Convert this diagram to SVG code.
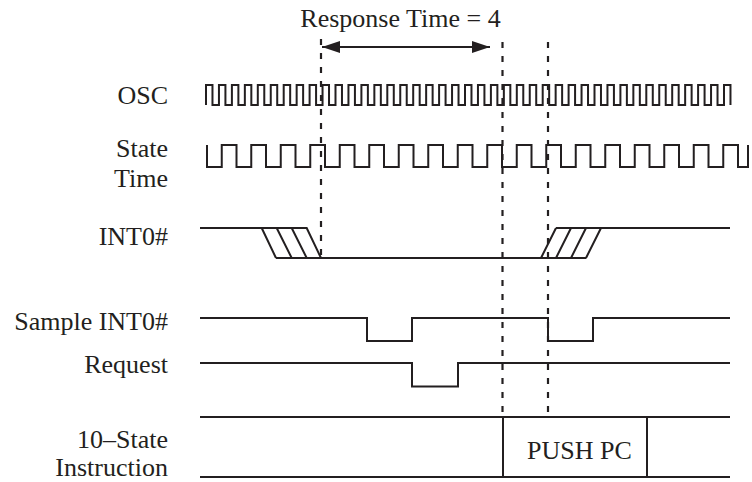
<svg xmlns="http://www.w3.org/2000/svg" width="752" height="482" viewBox="0 0 752 482">
<style>
.w{fill:none;stroke:#231f20;stroke-width:2;stroke-linejoin:miter}
.d{fill:none;stroke:#231f20;stroke-width:2.2;stroke-dasharray:6 8}
text{font-family:"Liberation Serif","Times New Roman",serif;font-size:26px;fill:#231f20}
.r{text-anchor:end}
</style>
<defs>
<marker id="ah" markerUnits="userSpaceOnUse" markerWidth="18" markerHeight="12" refX="18" refY="6" orient="auto-start-reverse">
<path d="M0,0 L18,6 L0,12 z" fill="#231f20"/>
</marker>
</defs>
<rect width="752" height="482" fill="#fff"/>
<g id="title"><text x="400.5" y="27" text-anchor="middle">Response Time = 4</text></g>
<g id="osc">
<text class="r" x="168" y="104">OSC</text>
<path class="w" d="M206,105
v-20h6.475v20h6.475v-20h6.475v20h6.475v-20h6.475v20h6.475v-20h6.475v20h6.475v-20h6.475v20h6.475
v-20h6.475v20h6.475v-20h6.475v20h6.475v-20h6.475v20h6.475v-20h6.475v20h6.475v-20h6.475v20h6.475
v-20h6.475v20h6.475v-20h6.475v20h6.475v-20h6.475v20h6.475v-20h6.475v20h6.475v-20h6.475v20h6.475
v-20h6.475v20h6.475v-20h6.475v20h6.475v-20h6.475v20h6.475v-20h6.475v20h6.475v-20h6.475v20h6.475
v-20h6.475v20h6.475v-20h6.475v20h6.475v-20h6.475v20h6.475v-20h6.475v20h6.475v-20h6.475v20h6.475
v-20h6.475v20h6.475v-20h6.475v20h6.475v-20h6.475v20h6.475v-20h6.475v20h6.475v-20h6.475v20h6.475
v-20h6.475v20h6.475v-20h6.475v20h6.475v-20h6.475v20h6.475v-20h6.475v20h6.475v-20h6.475v20h6.475
v-20h6.475v20h6.475v-20h6.475v20h6.475v-20h6.475v20h6.475v-20h6.475v20h6.475v-20h6.475v20h6.475
v-20h6.475v20"/>
</g>
<g id="state-time">
<text class="r" x="168" y="157">State</text>
<text class="r" x="168" y="187">Time</text>
<path class="w" d="M207,145v22h14.75
v-22h14.75v22h14.75v-22h14.75v22h14.75v-22h14.75v22h14.75v-22h14.75v22h14.75v-22h14.75v22h14.75
v-22h14.75v22h14.75v-22h14.75v22h14.75v-22h14.75v22h14.75v-22h14.75v22h14.75v-22h14.75v22h14.75
v-22h14.75v22h14.75v-22h14.75v22h14.75v-22h14.75v22h14.75v-22h14.75v22h14.75v-22h14.75v22h14.75
v-22h14.75v22h14.75v-22h14.75v22h14.75
v-22h14.75v22h10v-22"/>
</g>
<g id="int0">
<text class="r" x="168" y="245">INT0#</text>
<path class="w" d="M200,228H306.7L321,258M261.7,228L276,258M276.7,228L291.7,258M291.7,228L306.7,258M276,258H586M541,258L556,228M556,258L571,228M571,258L586,228M586,258L601,228M556,228H730"/>
</g>
<g id="sample-int0">
<text class="r" x="168" y="330">Sample INT0#</text>
<path class="w" d="M200,318H367V341H412V318H548V341H593V318H730"/>
</g>
<g id="request">
<text class="r" x="168" y="373">Request</text>
<path class="w" d="M200,363H412V386.5H458V363H730"/>
</g>
<g id="instruction">
<text class="r" x="168" y="448">10–State</text>
<text class="r" x="168" y="476">Instruction</text>
<path class="w" d="M200,417H730M200,477H730"/>
<rect class="w" x="503" y="417" width="144" height="60"/>
<text x="579.5" y="459" text-anchor="middle">PUSH PC</text>
</g>
<g id="connectors">
<line class="d" x1="321" y1="39" x2="321" y2="258"/>
<line class="d" x1="502.5" y1="42" x2="502.5" y2="417"/>
<line class="d" x1="548" y1="42" x2="548" y2="412"/>
<line class="w" x1="322" y1="47" x2="490" y2="47" marker-start="url(#ah)" marker-end="url(#ah)"/>
</g>
</svg>
